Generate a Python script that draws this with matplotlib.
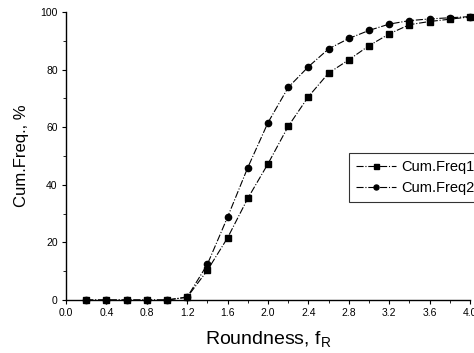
import matplotlib.pyplot as plt
import numpy as np

# roundness classes and cumulative frequencies (%)
fr = [0.2, 0.4, 0.6, 0.8, 1.0, 1.2, 1.4, 1.6, 1.8, 2.0,
      2.2, 2.4, 2.6, 2.8, 3.0, 3.2, 3.4, 3.6, 3.8, 4.0]
freq1 = [0, 0, 0, 0, 0, 1.0, 10.3, 21.6, 35.3, 47.3,
         60.3, 70.6, 78.8, 83.4, 88.3, 92.4, 95.6, 96.7, 97.5, 98.3]
freq2 = [0, 0, 0, 0, 0, 1.0, 12.4, 28.8, 46.0, 61.6,
         73.8, 81.0, 87.2, 90.8, 93.6, 95.8, 97.0, 97.6, 98.0, 98.4]

xticks = [0.0, 0.4, 0.8, 1.2, 1.6, 2.0, 2.4, 2.8, 3.2, 3.6, 4.0]
yticks = [0, 20, 40, 60, 80, 100]

plt.rcParams['font.family'] = ['Liberation Sans', 'DejaVu Sans']

fig = plt.figure(figsize=(4.74, 3.53), dpi=100)
ax = fig.add_axes([66/474, 1-300/353, (470-66)/474, (300-12)/353])

ax.plot(fr, freq1, color='black', lw=0.8, ls='-.', marker='s', ms=4.5,
        label='Cum.Freq1')
ax.plot(fr, freq2, color='black', lw=0.8, ls='-.', marker='o', ms=4.5,
        label='Cum.Freq2')

ax.set_xlim(0, 4.0)
ax.set_ylim(0, 100)
ax.set_xticks(xticks)
ax.set_xticklabels(['%.1f' % t for t in xticks], fontsize=7.5)
ax.set_yticks(yticks)
ax.set_yticklabels([str(t) for t in yticks], fontsize=7.5)
ax.set_xticks(np.arange(0.2, 4.0, 0.4), minor=True)
ax.set_yticks(np.arange(10, 100, 20), minor=True)
ax.tick_params(which='major', direction='out', length=3, width=0.8, pad=3)
ax.tick_params(which='minor', direction='out', length=2, width=0.6)

for s in ['top', 'right']:
    ax.spines[s].set_visible(False)
for s in ['left', 'bottom']:
    ax.spines[s].set_linewidth(1.0)
for ln in ax.lines:
    ln.set_clip_on(False)

ax.set_xlabel('Roundness, f$_\\mathregular{R}$', fontsize=14, labelpad=8)
ax.set_ylabel('Cum.Freq., %', fontsize=12, labelpad=8)

leg = ax.legend(loc='upper left', bbox_to_anchor=((349-66)/404, (300-153)/288),
                fontsize=10.5, frameon=True, fancybox=False, borderpad=0.5,
                handlelength=2.7, handletextpad=0.4, labelspacing=0.45,
                borderaxespad=0, markerscale=0.8)
leg.get_frame().set_edgecolor('black')
leg.get_frame().set_linewidth(0.8)

fig.savefig('out.png', dpi=100)
